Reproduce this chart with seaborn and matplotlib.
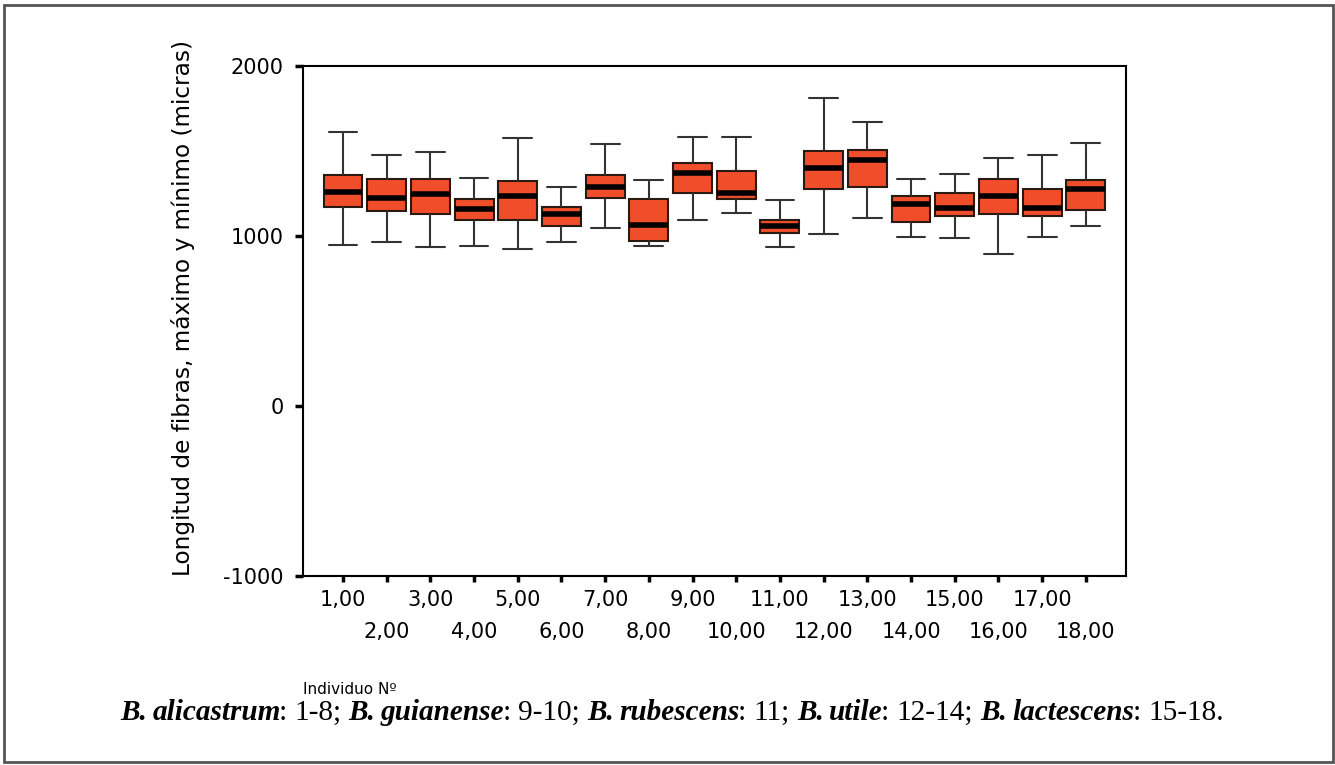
import numpy as np
import pandas as pd
import matplotlib
matplotlib.use("Agg")
import matplotlib.pyplot as plt
from matplotlib.patches import Rectangle
from matplotlib.colors import to_hex
from matplotlib.ticker import FixedLocator, FixedFormatter
import seaborn as sns

# ---- data ----
individuos = ["1,00", "2,00", "3,00", "4,00", "5,00", "6,00", "7,00", "8,00", "9,00",
              "10,00", "11,00", "12,00", "13,00", "14,00", "15,00", "16,00", "17,00", "18,00"]
minimo  = [949, 963, 933, 943, 924, 965, 1049, 941, 1096, 1137, 935, 1010, 1106, 994, 986, 894, 994, 1059]
q1      = [1173, 1149, 1127, 1096, 1096, 1059, 1222, 971, 1251, 1220, 1016, 1275, 1290, 1080, 1120, 1127, 1120, 1151]
mediana = [1261, 1222, 1245, 1159, 1235, 1127, 1290, 1065, 1369, 1251, 1061, 1400, 1447, 1188, 1165, 1235, 1165, 1275]
q3      = [1359, 1335, 1335, 1220, 1324, 1173, 1359, 1220, 1431, 1384, 1096, 1498, 1506, 1235, 1251, 1335, 1276, 1329]
maximo  = [1610, 1478, 1492, 1343, 1579, 1290, 1539, 1329, 1584, 1584, 1214, 1812, 1671, 1335, 1367, 1461, 1476, 1547]
y_ticks = [-1000, 0, 1000, 2000]

rows = []
for i, lab in enumerate(individuos):
    for v in (minimo[i], q1[i], mediana[i], q3[i], maximo[i]):
        rows.append((lab, v))
df = pd.DataFrame(rows, columns=["Individuo", "Longitud"])

sns.set_style("white")
plt.rcParams["font.family"] = ["DejaVu Sans"]
plt.rcParams["text.color"] = "black"
plt.rcParams["xtick.color"] = "black"
plt.rcParams["ytick.color"] = "black"

W, H = 1335, 765
fig = plt.figure(figsize=(W / 100, H / 100), dpi=100)
ax = fig.add_axes([303 / W, 1 - 576 / H, (1126 - 303) / W, (576 - 66) / H])

BOX_W = 0.89
CAP_COLOR = "#333333"
sns.boxplot(data=df, x="Individuo", y="Longitud", order=individuos, ax=ax,
            whis=(0, 100), width=BOX_W, color="#F04E2A", saturation=1,
            linecolor="#2a1a12", linewidth=1.5, fliersize=0,
            medianprops=dict(color="black", linewidth=4),
            whiskerprops=dict(color=CAP_COLOR, linewidth=1.5),
            capprops=dict(color=CAP_COLOR, linewidth=1.5))

# widen the whisker caps (reference caps are ~2/3 of the category spacing)
for ln in ax.lines:
    xd = np.asarray(ln.get_xdata(), dtype=float)
    yd = np.asarray(ln.get_ydata(), dtype=float)
    if len(xd) == 2 and np.isclose(yd[0], yd[1]) and to_hex(ln.get_color()) == CAP_COLOR:
        c = xd.mean()
        ln.set_xdata([c - 0.33, c + 0.33])

ax.set_xlim(-0.915, 17.92)
ax.set_ylim(-1000, 2000)
ax.set_yticks(y_ticks)
ax.set_yticklabels([str(v) for v in y_ticks], fontsize=15)

# odd individuals on the first row (major ticks), even ones on the second row (minor ticks)
pos = list(range(len(individuos)))
ax.xaxis.set_major_locator(FixedLocator(pos[0::2]))
ax.xaxis.set_major_formatter(FixedFormatter(individuos[0::2]))
ax.xaxis.set_minor_locator(FixedLocator(pos[1::2]))
ax.xaxis.set_minor_formatter(FixedFormatter(individuos[1::2]))
ax.set_xlabel("")
ax.set_ylabel("")
for s in ax.spines.values():
    s.set_visible(True)
    s.set_color("black")
    s.set_linewidth(1.5)
ax.tick_params(axis="y", direction="out", length=6, width=2.5, pad=8, color="black",
               labelcolor="black", left=True)
ax.tick_params(axis="x", which="major", direction="out", length=4, width=2.5, pad=6,
               color="black", labelcolor="black", bottom=True, labelsize=15)
ax.tick_params(axis="x", which="minor", direction="out", length=4, width=2.5, pad=29,
               color="black", labelcolor="black", bottom=True, labelsize=15)

fig.text(183 / W, 1 - 308 / H, "Longitud de fibras, máximo y mínimo (micras)",
         rotation=90, ha="center", va="center", fontsize=16.7, color="black")
fig.text(303 / W, 1 - 690 / H, "Individuo Nº", ha="left", va="center", fontsize=11, color="black")

# caption with mixed styles
pieces = [("B. alicastrum", True), (": 1-8; ", False), ("B. guianense", True), (": 9-10; ", False),
          ("B. rubescens", True), (": 11; ", False), ("B. utile", True), (": 12-14; ", False),
          ("B. lactescens", True), (": 15-18.", False)]
cap_fs = 21.1
serif = ["Liberation Serif", "DejaVu Serif"]
renderer = fig.canvas.get_renderer()
t1 = fig.text(0, 0, "x x", fontsize=cap_fs, family=serif)
t2 = fig.text(0, 0, "xx", fontsize=cap_fs, family=serif)
space_w = t1.get_window_extent(renderer).width - t2.get_window_extent(renderer).width
t1.remove(); t2.remove()
x = 120.0
ycap = 1 - 713 / H
for txt, bold in pieces:
    parts = txt.split(" ")
    for j, p in enumerate(parts):
        if p:
            t = fig.text(x / W, ycap, p, fontsize=cap_fs, family=serif, va="center", ha="left",
                         fontweight="bold" if bold else "normal",
                         fontstyle="italic" if bold else "normal", color="black")
            x = t.get_window_extent(renderer).x1 - (2 if bold else 0)
        if j < len(parts) - 1:
            x += space_w

fig.add_artist(Rectangle((4 / W, 3 / H), (1333 - 4) / W, (762 - 5) / H, transform=fig.transFigure,
                         fill=False, edgecolor="#555555", linewidth=2))

fig.savefig("out.png", dpi=100)
